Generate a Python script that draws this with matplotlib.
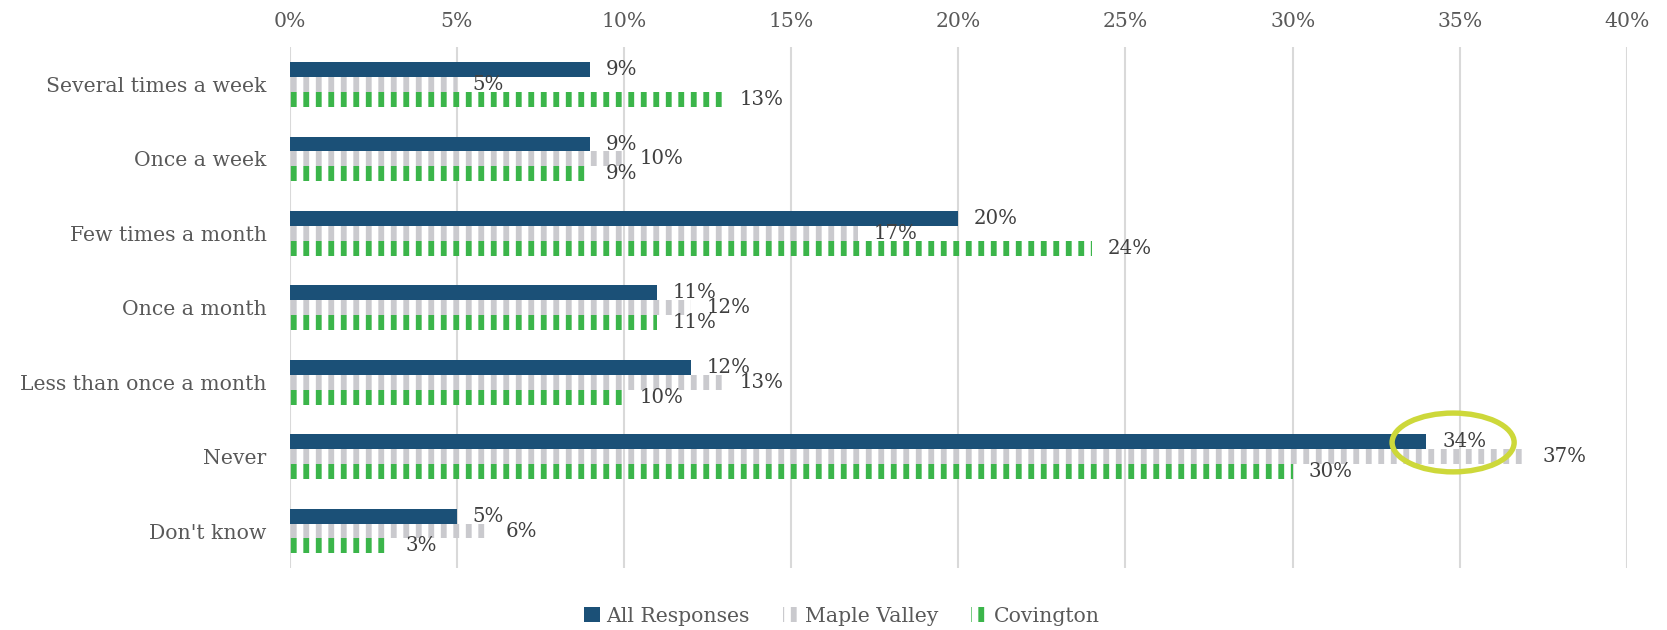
import numpy as np
import matplotlib
matplotlib.use("Agg")
from matplotlib import pyplot as plt
from matplotlib.patches import Ellipse, Patch

categories = ["Several times a week", "Once a week", "Few times a month",
              "Once a month", "Less than once a month", "Never", "Don't know"]
all_responses = [9, 9, 20, 11, 12, 34, 5]
maple_valley = [5, 10, 17, 12, 13, 37, 6]
covington = [13, 9, 24, 11, 10, 30, 3]
series_names = ["All Responses", "Maple Valley", "Covington"]
xticks = [0, 5, 10, 15, 20, 25, 30, 35, 40]

blue = "#1B5077"
gray = "#CACACE"
green = "#3BB54A"
txt = "#595959"

plt.rcParams["font.family"] = ["DejaVu Serif"]
plt.rcParams["hatch.linewidth"] = 2.8

# dpi 150 so the '||' hatch gives ~12px stripe period like the original
fig = plt.figure(figsize=(1667 / 150, 630 / 150), dpi=150)
left = 289.5 / 1667   # lines the hatch stripes up with the bar start
ax = fig.add_axes([left, 0.098, 1627 / 1667 - left, 0.827])

y = np.arange(len(categories))
h = 0.2
b1 = ax.barh(y - h, all_responses, height=h, color=blue, zorder=3)
b2 = ax.barh(y, maple_valley, height=h, facecolor="none", edgecolor=gray,
             linewidth=0, hatch="||", zorder=3)
b3 = ax.barh(y + h, covington, height=h, facecolor="none", edgecolor=green,
             linewidth=0, hatch="||", zorder=3)

for bars, vals in [(b1, all_responses), (b2, maple_valley), (b3, covington)]:
    ax.bar_label(bars, labels=[f"{v}%" for v in vals], padding=7.5,
                 fontsize=9.5, color="#404040")

# highlight circle around the "Never" all-responses label
ax.add_patch(Ellipse((34.8, 5 - 0.19), 3.65, 0.79, fill=False,
                     edgecolor="#CDD83A", linewidth=2.6, zorder=4))

ax.set_xlim(0, 40)
ax.set_ylim(len(categories) - 0.5, -0.5)
ax.set_xticks(xticks)
ax.set_xticklabels([f"{t}%" for t in xticks])
ax.set_yticks(y)
ax.set_yticklabels(categories)
ax.xaxis.tick_top()
ax.tick_params(axis="both", length=0, labelsize=9.8, colors=txt)
ax.tick_params(axis="y", pad=11)
ax.tick_params(axis="x", pad=8)
ax.grid(axis="x", color="#D9D9D9", linewidth=1.0, zorder=0)
for s in ax.spines.values():
    s.set_visible(False)

handles = [Patch(facecolor=blue),
           Patch(facecolor="none", edgecolor=gray, linewidth=0, hatch="||"),
           Patch(facecolor="none", edgecolor=green, linewidth=0, hatch="||")]
fig.legend(handles, series_names, loc="center", bbox_to_anchor=(0.505, 0.022),
           ncol=3, frameon=False, fontsize=9.8, labelcolor=txt,
           handlelength=0.8, handleheight=0.8, columnspacing=1.6, handletextpad=0.3)

fig.savefig("out.png", dpi=150)
